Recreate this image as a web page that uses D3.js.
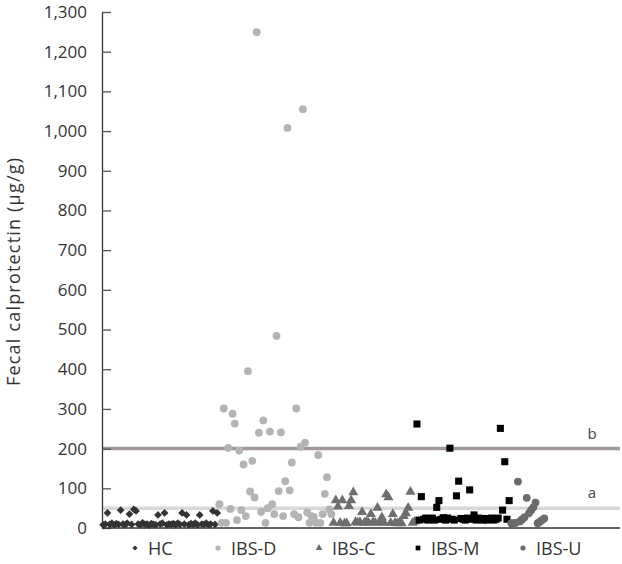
<!DOCTYPE html>
<html>
<head>
<meta charset="utf-8">
<script src="https://cdn.jsdelivr.net/npm/d3@7"></script>
<style>
  body { margin: 0; background: #fff; }
  svg { display: block; font-family: "Open Sans", sans-serif; }
</style>
</head>
<body>
<svg id="chart" width="622" height="564"></svg>
<script>
// fecal calprotectin (µg/g) per subject, in plotting order
const hcValues = [8, 10, 38, 9, 12, 8, 11, 9, 45, 10, 8, 12, 35, 9, 47, 43, 10, 8, 13, 9,
    10, 7, 11, 9, 8, 33, 10, 12, 38, 8, 10, 9, 11, 8, 12, 9, 38, 10, 33, 8,
    11, 9, 12, 8, 33, 10, 9, 12, 8, 10, 43, 9, 38];
const ibsDValues = [60, 13, 301, 13, 202, 48, 288, 263, 20, 195, 45, 160, 30, 395, 92, 169, 77, 1249, 240, 41,
    271, 13, 50, 243, 60, 35, 484, 93, 241, 30, 118, 1008, 95, 165, 35, 301, 27, 205, 1055, 215,
    39, 13, 30, 28, 13, 184, 13, 35, 86, 128, 47, 35];
const ibsCValues = [13, 70, 54, 13, 70, 12, 12, 55, 70, 90, 15, 13, 15, 40, 13, 16, 13, 35, 15, 13,
    51, 14, 27, 13, 85, 77, 13, 35, 13, 12, 13, 12, 30, 37, 51, 91, 13, 16];
const ibsMValues = [262, 20, 79, 22, 25, 20, 23, 25, 20, 52, 69, 22, 26, 20, 25, 201, 22, 20, 81, 118,
    24, 22, 20, 25, 96, 22, 33, 20, 25, 22, 20, 24, 20, 22, 25, 20, 22, 25, 251, 45,
    167, 22, 69];
const ibsUValues = [12, 12, 13, 117, 17, 22, 27, 76, 37, 45, 52, 64, 12, 16, 20, 24];

const groupNames = ["HC", "IBS-D", "IBS-C", "IBS-M", "IBS-U"];
const yTicks = [0, 100, 200, 300, 400, 500, 600, 700, 800, 900, 1000, 1100, 1200, 1300];
const cutoffs = [{ label: "a", value: 50 }, { label: "b", value: 200 }];

const groups = [
    { name: "HC", values: hcValues, shape: d3.symbolSquare, rotate: 45, size: 30, fill: "#333333" },
    { name: "IBS-D", values: ibsDValues, shape: d3.symbolCircle, rotate: 0, size: 48, fill: "#b4b4b4" },
    { name: "IBS-C", values: ibsCValues, shape: d3.symbolTriangle, rotate: 0, size: 44, fill: "#6e6e6e" },
    { name: "IBS-M", values: ibsMValues, shape: d3.symbolSquare, rotate: 0, size: 50, fill: "#000000" },
    { name: "IBS-U", values: ibsUValues, shape: d3.symbolCircle, rotate: 0, size: 48, fill: "#6b6b6b" }
];

// flatten to one running subject index
const points = [];
groups.forEach(g => g.values.forEach(v => points.push({ group: g, value: v, idx: points.length })));

const svg = d3.select("#chart");
const plotLeft = 102, plotRight = 620, plotTop = 12, plotBottom = 528;

const x = d3.scaleLinear().domain([0, 236]).range([plotLeft, plotRight]);
const y = d3.scaleLinear().domain([0, 1300]).range([plotBottom, plotTop]);

// cutoff lines
svg.selectAll("line.cut")
    .data(cutoffs)
    .join("line")
    .attr("x1", plotLeft).attr("x2", plotRight)
    .attr("y1", d => y(d.value)).attr("y2", d => y(d.value))
    .attr("stroke", d => d.label === "b" ? "#a0989a" : "#dbd7d7")
    .attr("stroke-width", 3.5);

svg.selectAll("text.cut")
    .data(cutoffs)
    .join("text")
    .attr("x", 592)
    .attr("y", d => y(d.value) - 10)
    .attr("text-anchor", "middle")
    .style("font-size", "15px")
    .style("fill", "#444")
    .text(d => d.label);

// y axis
const yAxis = d3.axisLeft(y)
    .tickValues(yTicks)
    .tickFormat(d3.format(","))
    .tickSizeInner(-9)
    .tickSizeOuter(0)
    .tickPadding(15);

const yg = svg.append("g")
    .attr("transform", `translate(${plotLeft},0)`)
    .call(yAxis);
yg.select(".domain").attr("stroke", "#333").attr("stroke-width", 1.3);
yg.selectAll(".tick line").attr("stroke", "#555").attr("stroke-width", 1.3);
yg.selectAll(".tick text").style("font-size", "17px").style("fill", "#333").style("font-family", "Open Sans");

// x axis baseline
svg.append("line")
    .attr("x1", plotLeft).attr("x2", plotRight)
    .attr("y1", plotBottom).attr("y2", plotBottom)
    .attr("stroke", "#333").attr("stroke-width", 1.3);

svg.append("text")
    .attr("transform", `translate(20,272) rotate(-90)`)
    .attr("text-anchor", "middle")
    .attr("textLength", 228)
    .attr("lengthAdjust", "spacing")
    .style("font-size", "18px")
    .style("fill", "#333")
    .text("Fecal calprotectin (μg/g)");

// points
svg.append("g")
    .selectAll("path")
    .data(points)
    .join("path")
    .attr("d", d => d3.symbol(d.group.shape, d.group.size)())
    .attr("transform", d => `translate(${x(d.idx + 0.5)},${y(d.value)}) rotate(${d.group.rotate})`)
    .attr("fill", d => d.group.fill);

// legend
const legendX = [135, 218, 319, 418, 523];
const legend = svg.append("g")
    .selectAll("g")
    .data(groups)
    .join("g")
    .attr("transform", (d, i) => `translate(${legendX[i]},548)`);

legend.append("path")
    .attr("d", d => d3.symbol(d.shape, d.size * 0.45)())
    .attr("transform", d => `rotate(${d.rotate})`)
    .attr("fill", d => d.fill);

legend.append("text")
    .attr("x", 13)
    .attr("y", 6.5)
    .style("font-size", "18px")
    .style("fill", "#333")
    .text((d, i) => groupNames[i]);
</script>
</body>
</html>
